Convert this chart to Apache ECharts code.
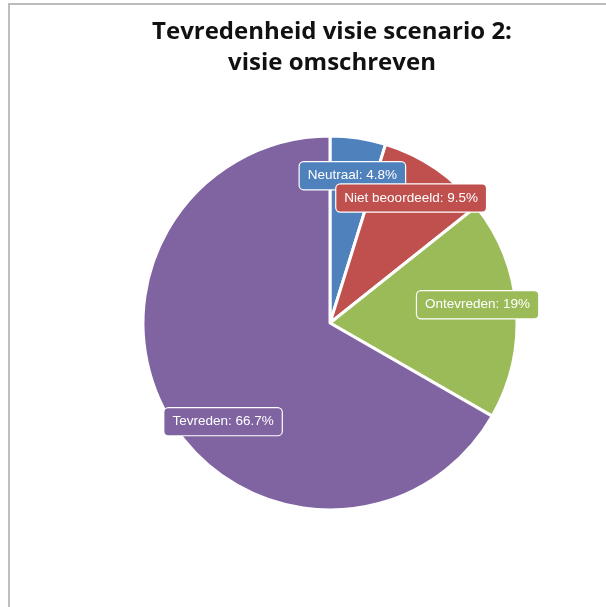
<!DOCTYPE html>
<html>
<head>
<meta charset="utf-8">
<script src="https://cdn.jsdelivr.net/npm/echarts@6/dist/echarts.min.js"></script>
<style>
  html, body { margin: 0; padding: 0; background: #fff; }
  .frame {
    position: absolute; left: 8px; top: 3px; width: 620px; height: 620px;
    border-left: 2px solid #bdbdbd; border-top: 2px solid #bdbdbd;
  }
  #chart { position: absolute; left: 0; top: 0; width: 606px; height: 607px; }
</style>
</head>
<body>
<div class="frame"></div>
<div id="chart"></div>
<script>
  // data
  var categories = ['Neutraal', 'Niet beoordeeld', 'Ontevreden', 'Tevreden'];
  var values = [4.8, 9.5, 19, 66.7];
  var colors = ['#4f81bd', '#c0504d', '#9bbb59', '#8064a2'];

  var pieData = categories.map(function (c, i) {
    return { name: c, value: values[i], itemStyle: { color: colors[i] } };
  });
  // labels sit on a transparent ring so they land at ~0.78 of the radius
  var labelData = categories.map(function (c, i) {
    return {
      name: c, value: values[i],
      itemStyle: { color: 'rgba(0,0,0,0)' },
      label: { backgroundColor: colors[i] }
    };
  });
  // small nudges, like the original's label repel
  var nudge = [[0, 0], [-3, -2], [-1, -7], [22, 24]];

  var myChart = echarts.init(document.getElementById('chart'));
  myChart.setOption({
    animation: false,
    title: {
      text: 'Tevredenheid visie scenario 2:\nvisie omschreven',
      left: 327, top: 12,
      textAlign: 'center',
      textStyle: {
        fontFamily: 'Open Sans', fontWeight: 'bold', fontSize: 24,
        color: '#111', lineHeight: 31
      }
    },
    series: [
      {
        type: 'pie',
        center: [330, 323],
        radius: [0, 187],
        startAngle: 90,
        clockwise: true,
        silent: true,
        label: { show: false },
        labelLine: { show: false },
        itemStyle: { borderColor: '#fff', borderWidth: 3 },
        data: pieData
      },
      {
        type: 'pie',
        center: [330, 323],
        radius: [105, 187],
        startAngle: 90,
        clockwise: true,
        silent: true,
        labelLine: { show: false },
        label: {
          show: true,
          position: 'inside',
          formatter: '{b}: {c}%',
          color: '#fff',
          fontFamily: 'Liberation Sans',
          fontSize: 13.5,
          padding: [7, 8, 6, 8],
          borderColor: '#fff',
          borderWidth: 1.2,
          borderRadius: 4
        },
        labelLayout: function (p) {
          var n = nudge[p.dataIndex];
          return { dx: n[0], dy: n[1] };
        },
        data: labelData
      }
    ]
  });
</script>
</body>
</html>
